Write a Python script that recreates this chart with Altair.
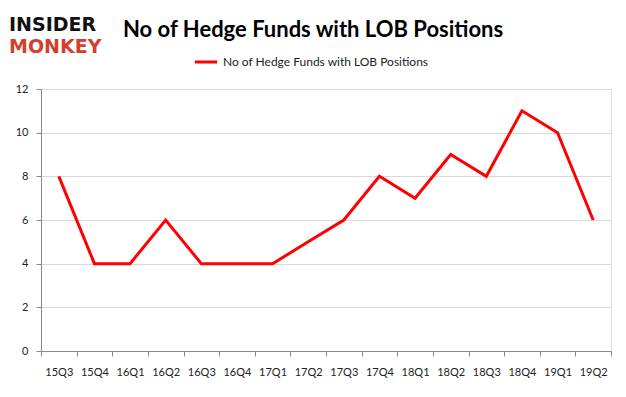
import altair as alt
import pandas as pd

quarters = ["15Q3", "15Q4", "16Q1", "16Q2", "16Q3", "16Q4", "17Q1", "17Q2",
            "17Q3", "17Q4", "18Q1", "18Q2", "18Q3", "18Q4", "19Q1", "19Q2"]
funds = [8, 4, 4, 6, 4, 4, 4, 5, 6, 8, 7, 9, 8, 11, 10, 6]
series_name = "No of Hedge Funds with LOB Positions"
y_ticks = [0, 2, 4, 6, 8, 10, 12]

df = pd.DataFrame({"quarter": quarters, "funds": funds, "series": series_name})

W, H = 570, 262
FONT = "Lato"

line = alt.Chart(df).mark_line(strokeWidth=3, strokeJoin="miter").encode(
    x=alt.X("quarter:N", sort=quarters, title=None,
            scale=alt.Scale(paddingInner=0, paddingOuter=0),
            axis=alt.Axis(tickBand="extent", labelAngle=0, tickSize=5,
                          labelPadding=10, labelFontSize=11, labelColor="#222222",
                          labelFont=FONT, domainColor="#888888", tickColor="#888888",
                          grid=False)),
    y=alt.Y("funds:Q", title=None,
            scale=alt.Scale(domain=[0, 12], nice=False),
            axis=alt.Axis(values=y_ticks, tickSize=5, labelPadding=8, labelFontSize=11,
                          labelColor="#222222", labelFont=FONT, domainColor="#888888",
                          tickColor="#888888", gridColor="#d9d9d9")),
    color=alt.Color("series:N", scale=alt.Scale(range=["#ff0000"]),
                    legend=alt.Legend(title=None, orient="none", legendX=152, legendY=-40,
                                      symbolType="stroke", symbolStrokeWidth=3,
                                      symbolSize=500, labelFontSize=12, labelFont=FONT,
                                      labelLimit=400, labelColor="#222222")),
)

text_df = pd.DataFrame({"t": [0]})
title = alt.Chart(text_df).mark_text(font=FONT, fontSize=22, fontWeight="bold",
                                     align="left", baseline="middle", color="#000000").encode(
    x=alt.value(82), y=alt.value(-59), text=alt.value("No of Hedge Funds with LOB Positions"))
logo1 = alt.Chart(text_df).mark_text(font="DejaVu Sans", fontSize=19, fontWeight="bold",
                                     align="left", baseline="middle", color="#111111").encode(
    x=alt.value(-32), y=alt.value(-64), text=alt.value("INSIDER"))
logo2 = alt.Chart(text_df).mark_text(font="DejaVu Sans", fontSize=19, fontWeight="bold",
                                     align="left", baseline="middle", color="#d2402b").encode(
    x=alt.value(-32), y=alt.value(-42), text=alt.value("MONKEY"))

chart = alt.layer(line, title, logo1, logo2).properties(
    width=W, height=H,
    autosize=alt.AutoSizeParams(type="none"),
    padding={"left": 33, "top": 81, "right": 7, "bottom": 30},
).configure_view(stroke=None).configure(background="white")

chart.save("out.html", embed_options={"renderer": "svg", "actions": False})
